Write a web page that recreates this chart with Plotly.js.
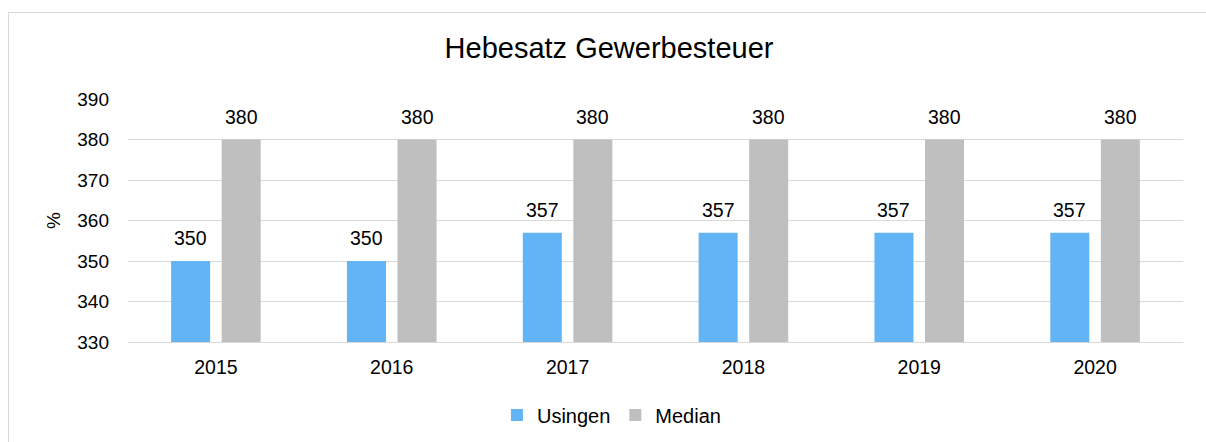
<!DOCTYPE html>
<html><head><meta charset="utf-8">
<script src="https://cdn.plot.ly/plotly-3.0.1.min.js"></script>
<style>
html,body{margin:0;padding:0;background:#fff;overflow:hidden;}
#chart{position:absolute;left:0;top:0;width:1206px;height:442px;}
#frame{position:absolute;left:8px;top:12px;width:1300px;height:500px;border:1px solid #d9d9d9;pointer-events:none;}
</style></head>
<body>
<div id="chart"></div>
<div id="frame"></div>
<script>
const years = ['2015','2016','2017','2018','2019','2020'];
const usingen = [350, 350, 357, 357, 357, 357];
const median = [380, 380, 380, 380, 380, 380];
const font = 'Liberation Sans, Arial, sans-serif';
const traces = [
  {type:'bar', name:'Usingen', x:years, y:usingen, marker:{color:'#63b4f5'}},
  {type:'bar', name:'Median', x:years, y:median, marker:{color:'#bfbfbf'}}
];
const annotations = [];
years.forEach((yr, i) => {
  annotations.push({x:i, y:usingen[i], xref:'x', yref:'y', text:String(usingen[i]), showarrow:false,
    xshift:-25.3, yshift:23, yanchor:'middle', font:{size:19.5, color:'#000', family:font}});
  annotations.push({x:i, y:median[i], xref:'x', yref:'y', text:String(median[i]), showarrow:false,
    xshift:25.3, yshift:23, yanchor:'middle', font:{size:19.5, color:'#000', family:font}});
});
const layout = {
  width:1206, height:442,
  margin:{l:128, r:23, t:99, b:100},
  paper_bgcolor:'#fff', plot_bgcolor:'#fff',
  font:{family:font, color:'#000', size:19},
  title:{text:'Hebesatz Gewerbesteuer', font:{size:29, family:font, color:'#000'}, x:609/1206, xref:'container', xanchor:'center', y:1-48/442, yref:'container', yanchor:'middle'},
  barmode:'group', bargap:0.425, bargroupgap:0.228,
  xaxis:{type:'category', categoryarray:years, range:[-0.5, years.length-0.5], showgrid:false, showline:true, linecolor:'#d9d9d9', linewidth:1, ticks:'', ticklabelstandoff:8, tickfont:{size:19.5}},
  yaxis:{range:[330,390], dtick:10, showgrid:true, gridcolor:'#d9d9d9', gridwidth:1, zeroline:false, showline:false, ticks:'', ticklabelstandoff:18, tickfont:{size:19},
    title:{text:'%', font:{size:19}, standoff:11}},
  annotations: annotations,
  showlegend:true,
  legend:{orientation:'h', x:0.507, xref:'container', xanchor:'center', y:1-415/442, yref:'container', yanchor:'middle', font:{size:20}, traceorder:'normal'}
};
Plotly.newPlot('chart', traces, layout, {displayModeBar:false, staticPlot:true});
</script>
</body></html>
